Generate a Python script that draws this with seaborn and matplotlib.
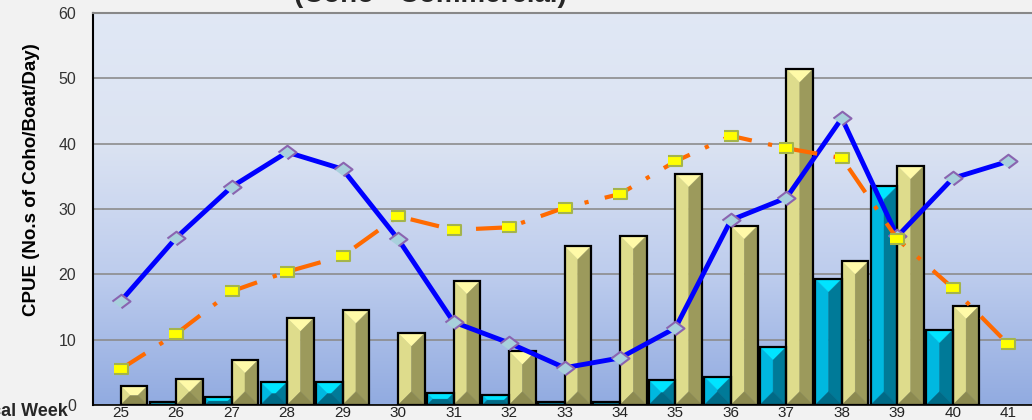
import numpy as np
import pandas as pd
import matplotlib
matplotlib.use("Agg")
import matplotlib.pyplot as plt
from matplotlib.patches import Polygon
from matplotlib.colors import to_rgba
import seaborn as sns

# Chart data
weeks = [str(w) for w in range(25, 42)]
bars_blue = [0, 0.4, 1.2, 3.5, 3.5, 0, 1.8, 1.5, 0.5, 0.5, 3.8, 4.3, 8.9, 19.3, 33.5, 11.5, 0]
bars_yellow = [2.9, 4.0, 6.9, 13.3, 14.5, 11.0, 19.0, 8.2, 24.3, 25.9, 35.4, 27.4, 51.4, 22.0, 36.6, 15.2, 0]
cpue_current = [15.9, 25.6, 33.4, 38.7, 36.1, 25.4, 12.7, 9.5, 5.7, 7.2, 11.8, 28.3, 31.7, 43.9, 25.8, 34.7, 37.3]
cpue_average = [5.5, 10.9, 17.4, 20.4, 22.8, 28.9, 26.8, 27.2, 30.2, 32.3, 37.3, 41.2, 39.3, 37.8, 25.4, 17.9, 9.3]

df = pd.DataFrame({
    "week": weeks * 2,
    "series": ["blue"] * len(weeks) + ["yellow"] * len(weeks),
    "value": bars_blue + bars_yellow,
})

sns.set_theme(style="white")
plt.rcParams["font.family"] = ["Liberation Sans", "DejaVu Sans"]

BLUE = "#00b8e0"
YELLOW = "#dedc8c"
# bevel shades: top, left, right, bottom
shades = {
    "blue": ["#00e4ff", "#00b8e0", "#007a98", "#006a86"],
    "yellow": ["#fffaa8", "#dedc8c", "#9c9a5c", "#8c8a50"],
}
# wide diamond / wide box markers (the source picture is stretched sideways)
diamond = [(-1, 0), (0, 0.75), (1, 0), (0, -0.75)]
box = [(-1, -0.72), (1, -0.72), (1, 0.72), (-1, 0.72)]

fig = plt.figure(figsize=(10.32, 4.2), dpi=100, facecolor="#f2f2f2")
ax = fig.add_axes([93 / 1032, 15 / 420, 943 / 1032, 392 / 420])

# gradient background of the plot area
stops_pos = [0.0, 0.33, 0.67, 1.0]
stops_col = np.array([[0.57, 0.67, 0.88], [0.74, 0.80, 0.93], [0.86, 0.89, 0.95], [0.88, 0.91, 0.96]])
yy = np.linspace(0, 1, 256)
grad = np.stack([np.interp(yy, stops_pos, stops_col[:, i]) for i in range(3)], axis=1)[:, None, :]
ax.imshow(grad, extent=[-0.5, 16.5, 0, 60], origin="lower", aspect="auto", zorder=0)

sns.barplot(data=df, x="week", y="value", hue="series", hue_order=["blue", "yellow"],
            palette=[BLUE, YELLOW], saturation=1, width=0.96, gap=0,
            edgecolor="black", linewidth=1.6, legend=False, ax=ax)

ax.set_xlim(-0.5, 16.5)
ax.set_ylim(0, 60)

# 3D bevel look on every bar
p0 = ax.transData.transform((0, 0))
p1 = ax.transData.transform((1, 1))
sx, sy = p1[0] - p0[0], p1[1] - p0[1]
blue_rgba = to_rgba(BLUE)
for p in list(ax.patches):
    h = p.get_height()
    if h <= 0:
        p.set_visible(False)
        continue
    key = "blue" if np.allclose(p.get_facecolor(), blue_rgba, atol=0.02) else "yellow"
    x0, w = p.get_x(), p.get_width()
    x1 = x0 + w
    d = min(w * sx, h * sy) / 2
    xi0, xi1 = x0 + d / sx, x1 - d / sx
    yi0, yi1 = d / sy, h - d / sy
    faces = [
        [(x0, h), (x1, h), (xi1, yi1), (xi0, yi1)],
        [(x0, h), (xi0, yi1), (xi0, yi0), (x0, 0)],
        [(x1, h), (x1, 0), (xi1, yi0), (xi1, yi1)],
        [(x0, 0), (x1, 0), (xi1, yi0), (xi0, yi0)],
    ]
    for pts, col in zip(faces, shades[key]):
        ax.add_patch(Polygon(pts, closed=True, facecolor=col, edgecolor=col, lw=0.3, zorder=2))
    p.set_facecolor("none")
    p.set_zorder(2.5)

xpos = np.arange(len(weeks))
sns.lineplot(x=xpos, y=cpue_current, color="#0000ff", lw=3.5, marker=diamond, markersize=13,
             markerfacecolor="#a8d0dc", markeredgecolor="#8a64b0", markeredgewidth=1.5,
             ax=ax, zorder=4)
sns.lineplot(x=xpos, y=cpue_average, color="#ff6a00", lw=3, linestyle=(0, (7, 4, 1, 4)),
             marker=box, markersize=10, markerfacecolor="#ffff00", markeredgecolor="#a4b44c",
             markeredgewidth=1.5, ax=ax, zorder=5)

ax.set_xlim(-0.5, 16.5)
ax.set_ylim(0, 60)

# axes, ticks, grid
ax.set_axisbelow(True)
ax.yaxis.grid(True, color="#8c8c8c", lw=1.2)
ax.xaxis.grid(False)
ax.set_xticks(xpos)
ax.set_xticklabels(weeks)
ax.set_xticks(np.arange(-0.5, 17, 1), minor=True)
ax.tick_params(axis="x", which="major", length=0, pad=1, labelsize=11, labelcolor="#222222")
ax.tick_params(axis="x", which="minor", length=20, width=1.2, color="#555555")
ax.set_yticks(range(0, 61, 10))
ax.tick_params(axis="y", length=7, width=1, color="#666666", labelcolor="#333333", labelsize=11.5, pad=5)
ax.spines["left"].set_color("black")
ax.spines["left"].set_linewidth(1.5)
ax.spines["bottom"].set_color("black")
ax.spines["bottom"].set_linewidth(1.2)
ax.spines["top"].set_color("#888888")
ax.spines["top"].set_linewidth(1.5)
ax.spines["right"].set_visible(False)

ax.set_xlabel("")
ax.set_ylabel("CPUE (No.s of Coho/Boat/Day)", fontsize=13.5, fontweight="bold", color="black")
ax.yaxis.set_label_coords((40 - 93) / 943, 0.574)

fig.text(68 / 1032, 9 / 420, "Statistical Week", fontsize=13, fontweight="bold",
         ha="right", va="center")
fig.text(430 / 1032, 418 / 420, "(Coho - Commercial)", fontsize=20, fontweight="bold",
         ha="center", va="baseline")

fig.savefig("out.png", dpi=100, facecolor=fig.get_facecolor())
